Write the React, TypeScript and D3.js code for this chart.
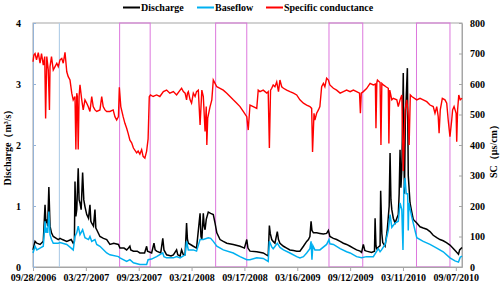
import React, { useEffect, useRef } from 'react';
import * as d3 from 'd3';

// days are counted from 09/28/2006
const START = new Date(2006, 8, 28);
const END = new Date(2010, 8, 28);

const xTickLabels = ['09/28/2006', '03/27/2007', '09/23/2007', '03/21/2008', '09/17/2008',
  '03/16/2009', '09/12/2009', '03/11/2010', '09/07/2010'];
const leftTicks = [0, 1, 2, 3, 4];
const rightTicks = [0, 100, 200, 300, 400, 500, 600, 700, 800];

const discharge: [number, number][] = [
  [0, 0.28], [7, 0.42], [13, 0.39], [24, 0.37], [35, 0.42], [41, 1.02], [44, 0.72], [47, 0.78], [50, 0.67],
  [54, 1.31], [58, 0.67], [63, 0.56], [69, 0.5], [86, 0.45], [92, 0.47], [100, 0.45], [115, 0.42], [130, 0.45],
  [137, 0.39], [141, 0.42], [143, 1.4], [146, 0.83], [149, 0.94], [154, 1.62], [157, 1.1], [160, 1.05],
  [164, 0.94], [169, 1.55], [173, 1.1], [177, 0.99], [183, 0.86], [189, 0.8], [194, 1.02], [197, 0.75],
  [200, 0.72], [206, 0.67], [211, 0.94], [214, 0.64], [217, 0.61], [228, 0.5], [240, 0.47], [251, 0.45],
  [262, 0.37], [275, 0.39], [291, 0.37], [296, 0.31], [310, 0.31], [319, 0.28], [325, 0.31], [330, 0.34],
  [333, 0.28], [342, 0.26], [355, 0.26], [364, 0.23], [380, 0.23], [387, 0.34], [390, 0.26], [404, 0.23],
  [412, 0.39], [416, 0.28], [421, 0.26], [435, 0.23], [442, 0.47], [446, 0.28], [455, 0.2], [470, 0.18],
  [478, 0.2], [489, 0.28], [493, 0.2], [501, 0.18], [506, 0.28], [512, 0.2], [518, 0.2], [523, 0.72],
  [526, 0.45], [529, 0.39], [546, 0.34], [557, 0.31], [569, 0.88], [572, 0.5], [575, 0.45], [580, 0.88],
  [583, 0.67], [586, 0.61], [590, 0.78], [597, 0.9], [605, 0.88], [614, 0.86], [620, 0.72], [626, 0.56],
  [637, 0.45], [648, 0.42], [660, 0.39], [682, 0.37], [705, 0.34], [720, 0.31], [728, 0.45], [732, 0.31],
  [739, 0.26], [762, 0.25], [784, 0.23], [801, 0.18], [805, 0.68], [808, 0.55], [813, 0.45], [818, 0.42],
  [824, 0.39], [832, 0.58], [836, 0.45], [841, 0.39], [853, 0.34], [864, 0.31], [875, 0.28], [887, 0.27],
  [898, 0.26], [909, 0.26], [921, 0.34], [932, 0.42], [938, 0.45], [943, 0.5], [947, 0.75], [950, 0.6],
  [955, 0.56], [966, 0.56], [977, 0.55], [989, 0.54], [1000, 0.55], [1006, 0.6], [1011, 0.5], [1023, 0.47],
  [1034, 0.45], [1046, 0.42], [1057, 0.39], [1068, 0.37], [1080, 0.34], [1091, 0.31], [1102, 0.28],
  [1114, 0.26], [1119, 0.24], [1125, 0.37], [1130, 0.27], [1136, 0.26], [1153, 0.24], [1163, 0.26],
  [1165, 0.8], [1168, 0.35], [1170, 0.3], [1182, 0.35], [1184, 1.25], [1188, 0.55], [1191, 0.4], [1199, 0.34],
  [1205, 0.55], [1207, 0.64], [1213, 1.0], [1216, 1.87], [1219, 1.1], [1222, 0.94], [1227, 0.8], [1233, 0.72],
  [1239, 0.8], [1244, 0.86], [1247, 1.2], [1250, 1.92], [1253, 1.3], [1256, 1.6], [1259, 2.5], [1261, 3.18],
  [1263, 2.0], [1265, 1.2], [1268, 2.4], [1272, 2.9], [1275, 3.26], [1278, 1.5], [1284, 1.05], [1290, 0.9],
  [1295, 0.78], [1307, 0.72], [1318, 0.66], [1329, 0.64], [1341, 0.62], [1352, 0.58], [1363, 0.52],
  [1375, 0.48], [1386, 0.45], [1397, 0.43], [1408, 0.4], [1420, 0.36], [1432, 0.3], [1443, 0.24],
  [1449, 0.21], [1453, 0.28], [1461, 0.32],
];

const baseflow: [number, number][] = [
  [0, 0.23], [7, 0.34], [13, 0.28], [24, 0.31], [35, 0.34], [41, 0.75], [44, 0.56], [47, 0.61], [50, 0.56],
  [54, 0.91], [58, 0.53], [63, 0.45], [69, 0.39], [86, 0.39], [92, 0.4], [115, 0.37], [130, 0.31], [137, 0.28],
  [143, 0.5], [149, 0.56], [154, 0.67], [160, 0.53], [169, 0.61], [177, 0.48], [189, 0.45], [194, 0.5],
  [200, 0.42], [211, 0.45], [217, 0.37], [228, 0.34], [251, 0.23], [262, 0.2], [291, 0.17], [296, 0.15],
  [319, 0.09], [330, 0.12], [342, 0.07], [364, 0.04], [387, 0.04], [392, 0.12], [404, 0.13], [412, 0.15],
  [421, 0.17], [442, 0.23], [446, 0.17], [455, 0.15], [478, 0.15], [489, 0.17], [501, 0.15], [518, 0.2],
  [523, 0.42], [529, 0.28], [546, 0.28], [557, 0.26], [569, 0.45], [580, 0.45], [597, 0.48], [605, 0.47],
  [614, 0.42], [626, 0.34], [648, 0.28], [682, 0.23], [705, 0.17], [728, 0.12], [739, 0.12], [762, 0.15],
  [784, 0.14], [801, 0.09], [805, 0.42], [813, 0.33], [818, 0.3], [832, 0.39], [841, 0.32], [853, 0.28],
  [875, 0.23], [898, 0.17], [909, 0.15], [921, 0.17], [932, 0.23], [943, 0.3], [947, 0.42], [950, 0.12],
  [953, 0.35], [960, 0.28], [977, 0.28], [1000, 0.37], [1008, 0.45], [1011, 0.38], [1023, 0.37],
  [1046, 0.3], [1068, 0.25], [1080, 0.23], [1102, 0.17], [1119, 0.15], [1136, 0.17], [1159, 0.17],
  [1176, 0.3], [1182, 0.25], [1187, 0.28], [1199, 0.37], [1210, 0.6], [1216, 0.86], [1222, 0.65],
  [1233, 0.72], [1244, 0.75], [1250, 1.05], [1256, 0.94], [1260, 0.28], [1263, 1.26], [1267, 1.46],
  [1271, 1.2], [1276, 1.2], [1278, 0.6], [1280, 1.05], [1290, 0.82], [1295, 0.72], [1307, 0.48],
  [1329, 0.42], [1352, 0.37], [1375, 0.31], [1397, 0.25], [1420, 0.15], [1437, 0.1], [1449, 0.08],
  [1455, 0.16], [1461, 0.18],
];

const conductance: [number, number][] = [
  [0, 673], [3, 695], [7, 700], [12, 679], [18, 703], [24, 668], [29, 700], [35, 662], [40, 690], [43, 487],
  [47, 690], [52, 646], [56, 515], [58, 657], [63, 690], [69, 646], [75, 657], [81, 668], [86, 657], [92, 679],
  [98, 684], [103, 668], [109, 704], [115, 640], [120, 624], [126, 613], [132, 570], [137, 548], [143, 559],
  [146, 385], [149, 570], [151, 559], [154, 385], [157, 560], [160, 597], [166, 548], [171, 515], [177, 548],
  [183, 537], [188, 526], [194, 510], [200, 559], [205, 526], [211, 515], [217, 510], [228, 515], [234, 559],
  [239, 526], [245, 515], [251, 510], [262, 510], [273, 515], [279, 493], [285, 482], [291, 493], [294, 589],
  [299, 526], [307, 493], [313, 471], [319, 455], [324, 438], [330, 416], [336, 407], [342, 390], [353, 374],
  [358, 380], [364, 370], [370, 385], [375, 363], [381, 357], [387, 380], [392, 420], [396, 558], [400, 564],
  [409, 559], [421, 564], [432, 559], [444, 575], [455, 580], [466, 570], [478, 575], [489, 564], [501, 580],
  [506, 586], [512, 575], [518, 570], [523, 548], [526, 570], [529, 575], [535, 548], [540, 537], [546, 570],
  [552, 559], [557, 575], [563, 580], [569, 466], [575, 580], [580, 559], [586, 444], [590, 526], [592, 400],
  [595, 488], [603, 526], [609, 548], [614, 613], [620, 602], [626, 591], [637, 586], [648, 580], [660, 570],
  [671, 559], [682, 548], [694, 537], [705, 526], [716, 510], [728, 493], [733, 449], [739, 531], [750, 526],
  [762, 520], [767, 580], [773, 575], [784, 580], [796, 570], [801, 575], [805, 390], [809, 580], [813, 586],
  [818, 597], [824, 591], [830, 607], [836, 575], [841, 613], [847, 591], [853, 586], [864, 580], [875, 575],
  [887, 570], [898, 564], [909, 548], [921, 537], [932, 531], [943, 526], [949, 520], [952, 377], [957, 504],
  [960, 482], [966, 504], [972, 515], [977, 526], [983, 591], [989, 602], [994, 591], [1000, 619], [1006, 613],
  [1011, 597], [1023, 586], [1034, 580], [1046, 570], [1057, 575], [1068, 580], [1080, 575], [1091, 580],
  [1102, 575], [1112, 570], [1115, 504], [1118, 570], [1125, 575], [1136, 585], [1148, 602], [1159, 597],
  [1166, 600], [1168, 455], [1171, 605], [1173, 613], [1182, 605], [1185, 400], [1188, 602], [1193, 597],
  [1202, 591], [1210, 586], [1212, 405], [1215, 580], [1222, 548], [1227, 553], [1239, 548], [1244, 526],
  [1250, 548], [1256, 564], [1261, 315], [1267, 515], [1273, 548], [1278, 493], [1281, 400], [1285, 564],
  [1290, 559], [1307, 548], [1318, 553], [1329, 548], [1341, 542], [1352, 531], [1363, 526], [1369, 504],
  [1375, 526], [1380, 493], [1383, 439], [1387, 515], [1394, 553], [1403, 548], [1409, 537], [1414, 482],
  [1420, 427], [1426, 482], [1429, 515], [1434, 526], [1441, 504], [1443, 411], [1446, 515], [1450, 564],
  [1455, 548], [1461, 553],
];

// pink boxes (start day, end day) and the single blue marker line
const periods: [number, number][] = [[295, 399], [622, 728], [1008, 1123], [1306, 1420]];
const markerDay = 90;

const W = 500;
const H = 286;
const margin = { left: 33, right: 38, top: 23, bottom: 19 };
const FONT = '"Liberation Serif", "Times New Roman", serif';

export default function App() {
  const ref = useRef<SVGSVGElement>(null);

  useEffect(() => {
    const svg = d3.select(ref.current);
    svg.selectAll('*').remove();

    const day = (d: number) => d3.timeDay.offset(START, d);
    const x = d3.scaleTime().domain([START, END]).range([margin.left, W - margin.right]);
    const yL = d3.scaleLinear().domain([0, 4]).range([H - margin.bottom, margin.top]);
    const yR = d3.scaleLinear().domain([0, 800]).range([H - margin.bottom, margin.top]);
    const top = margin.top, bottom = H - margin.bottom;

    // plot frame
    svg.append('rect')
      .attr('x', margin.left).attr('y', top)
      .attr('width', W - margin.left - margin.right).attr('height', bottom - top)
      .attr('fill', 'none').attr('stroke', '#a6a6a6').attr('stroke-width', 1);

    // periods
    periods.forEach(([a, b]) => {
      svg.append('rect')
        .attr('x', x(day(a))).attr('y', top)
        .attr('width', x(day(b)) - x(day(a))).attr('height', bottom - top)
        .attr('fill', 'none').attr('stroke', '#dd77dd').attr('stroke-width', 1);
    });
    svg.append('line')
      .attr('x1', x(day(markerDay))).attr('x2', x(day(markerDay)))
      .attr('y1', top).attr('y2', bottom)
      .attr('stroke', '#b4cfe8').attr('stroke-width', 1.2);

    const parse = d3.timeParse('%m/%d/%Y');
    const xAxis = d3.axisBottom(x)
      .tickValues(xTickLabels.map(s => parse(s) as Date))
      .tickFormat(d3.timeFormat('%m/%d/%Y') as any)
      .tickSize(4).tickSizeOuter(0);
    const gx = svg.append('g').attr('transform', `translate(0,${bottom})`).call(xAxis);
    gx.select('.domain').attr('stroke', '#a6a6a6');
    gx.selectAll('.tick line').attr('stroke', '#a6a6a6');

    const gl = svg.append('g').attr('transform', `translate(${margin.left},0)`)
      .call(d3.axisLeft(yL).tickValues(leftTicks).tickFormat(d3.format('d'))
        .tickSize(-3).tickSizeOuter(0).tickPadding(12));
    gl.select('.domain').attr('stroke', '#95b3d7');
    gl.selectAll('.tick line').attr('stroke', '#95b3d7');

    const gr = svg.append('g').attr('transform', `translate(${W - margin.right},0)`)
      .call(d3.axisRight(yR).tickValues(rightTicks).tickFormat(d3.format('d'))
        .tickSize(-3).tickSizeOuter(0).tickPadding(8));
    gr.select('.domain').attr('stroke', '#a6a6a6');
    gr.selectAll('.tick line').attr('stroke', '#a6a6a6');

    svg.selectAll('.tick text')
      .attr('font-family', FONT).attr('font-size', 10).attr('font-weight', 'bold').attr('fill', '#000');

    const lineL = d3.line<[number, number]>().x(d => x(day(d[0]))).y(d => yL(d[1]));
    const lineR = d3.line<[number, number]>().x(d => x(day(d[0]))).y(d => yR(d[1]));

    svg.append('path').datum(discharge).attr('d', lineL)
      .attr('fill', 'none').attr('stroke', '#000').attr('stroke-width', 1.5);
    svg.append('path').datum(baseflow).attr('d', lineL)
      .attr('fill', 'none').attr('stroke', '#00b0f0').attr('stroke-width', 1.5);
    svg.append('path').datum(conductance).attr('d', lineR)
      .attr('fill', 'none').attr('stroke', '#ff0000').attr('stroke-width', 1.4);

    // axis titles
    svg.append('text')
      .attr('transform', `translate(11,${(top + bottom) / 2}) rotate(-90)`)
      .attr('text-anchor', 'middle')
      .attr('font-family', FONT).attr('font-size', 10).attr('font-weight', 'bold')
      .text('Discharge（m³/s）');
    svg.append('text')
      .attr('transform', `translate(497,${(top + bottom) / 2 + 4}) rotate(-90)`)
      .attr('text-anchor', 'middle')
      .attr('font-family', FONT).attr('font-size', 10).attr('font-weight', 'bold')
      .text('SC（μs/cm）');

    // legend
    const legend = [
      { name: 'Discharge', color: '#000', x: 123 },
      { name: 'Baseflow', color: '#00b0f0', x: 197 },
      { name: 'Specific conductance', color: '#ff0000', x: 266 },
    ];
    legend.forEach(l => {
      svg.append('line')
        .attr('x1', l.x).attr('x2', l.x + 17).attr('y1', 7.5).attr('y2', 7.5)
        .attr('stroke', l.color).attr('stroke-width', 2);
      svg.append('text')
        .attr('x', l.x + 18).attr('y', 11)
        .attr('font-family', FONT).attr('font-size', 10).attr('font-weight', 'bold')
        .text(l.name);
    });
  }, []);

  return (
    <svg ref={ref} width={W} height={H}
      style={{ position: 'absolute', left: 0, top: 0, background: '#fff' }} />
  );
}
